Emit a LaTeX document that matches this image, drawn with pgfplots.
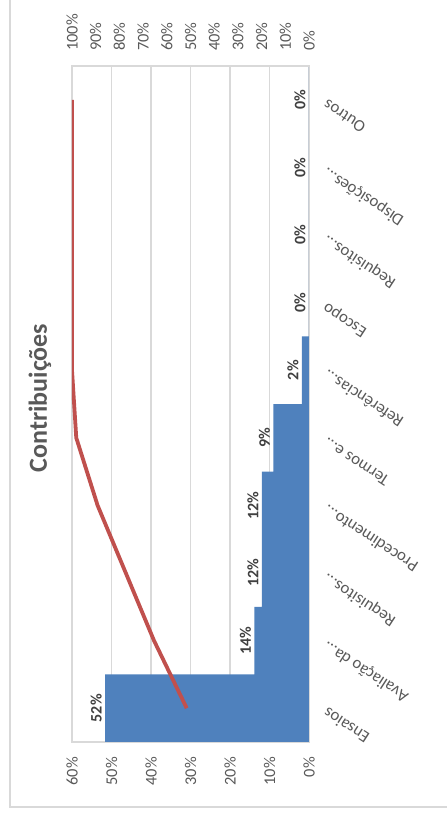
\documentclass[border=0pt]{standalone}
\usepackage{pgfplots}
\pgfplotsset{compat=1.18}
\usepackage{pgfplotstable}
\usepackage{fontspec}
\setmainfont{Carlito}
\definecolor{barblue}{HTML}{4F81BD}
\definecolor{linered}{HTML}{C0504D}
\definecolor{txtgray}{HTML}{595959}
\definecolor{gridgray}{HTML}{D9D9D9}
\definecolor{lblgray}{HTML}{404040}
\newcommand{\dd}{...}

\pgfplotstableread{
idx val cum
0 51.6 51.6
1 13.8 65.4
2 11.9 77.3
3 11.9 89.2
4 9.0 98.2
5 1.8 100
6 0 100
7 0 100
8 0 100
9 0 100
}\data

\begin{document}
\begin{tikzpicture}[x=1pt,y=1pt]
\useasboundingbox (0,0) rectangle (223,408);
\draw[gridgray, line width=0.7pt] (5,4.5) rectangle (400,600);
\node[rotate=90, font=\fontsize{13}{15}\selectfont\bfseries, text=txtgray] at (20,209) {Contribuições};
\begin{axis}[
  at={(36pt,37pt)}, anchor=south west,
  scale only axis, width=118.5pt, height=338pt,
  xbar, bar width=1, x dir=reverse,
  xmin=0, xmax=60, ymin=-0.5, ymax=9.5,
  xtick={0,10,...,60},
  xticklabel={\pgfmathprintnumber{\tick}\%},
  xticklabel style={rotate=90, anchor=east, font=\fontsize{8.2}{9}\selectfont, text=txtgray},
  xticklabel shift=4pt,
  /pgf/number format/assume math mode=true,
  ytick={0,1,2,3,4,5,6,7,8,9},
  yticklabels={Ensaios, Avaliação da\dd, Requisitos\dd, Procedimento\dd, Termos e\dd, Referências\dd, Escopo, Requisitos\dd, Disposições\dd, Outros},
  yticklabel pos=right,
  yticklabel style={rotate=147, anchor=east, font=\fontsize{8.4}{9}\selectfont, text=txtgray},
  yticklabel shift=5pt,
  xmajorgrids, major grid style={gridgray, line width=0.75pt},
  axis line style={gridgray, line width=0.75pt},
  major tick length=0pt,
]
\addplot[fill=barblue, draw=none, point meta=x,
  nodes near coords={\pgfmathprintnumber[fixed,precision=0]{\pgfplotspointmeta}\%},
  every node near coord/.append style={rotate=90, anchor=south, inner sep=1.5pt, font=\fontsize{8}{9}\selectfont\bfseries, text=lblgray}]
  table[x=val, y=idx]{\data};
\end{axis}
\begin{axis}[
  at={(36pt,37pt)}, anchor=south west,
  scale only axis, width=118.5pt, height=338pt,
  x dir=reverse,
  xmin=0, xmax=100, ymin=-0.5, ymax=9.5,
  axis x line*=top, axis y line=none,
  xtick={0,10,...,100},
  xticklabel={\pgfmathprintnumber{\tick}\%},
  xticklabel style={rotate=90, anchor=west, font=\fontsize{8.2}{9}\selectfont, text=txtgray},
  xticklabel shift=4pt,
  /pgf/number format/assume math mode=true,
  axis line style={gridgray, line width=0.75pt},
  major tick length=0pt,
]
\addplot[linered, line width=1.9pt, line join=round, no marks] table[x=cum, y=idx]{\data};
\end{axis}
\end{tikzpicture}
\end{document}
